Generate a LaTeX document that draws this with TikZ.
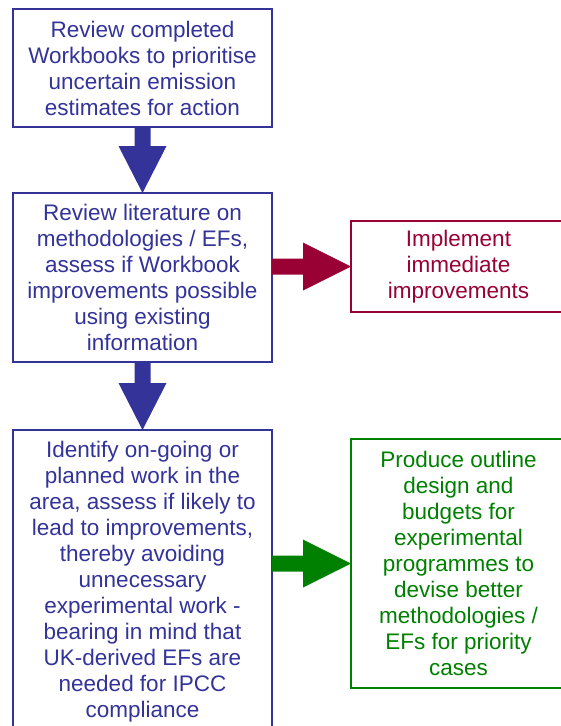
\documentclass[tikz,border=0pt]{standalone}
\usepackage{fontspec}
\setmainfont{Liberation Sans}
\usepackage{xcolor}
\usepackage{tikz}
\usetikzlibrary{positioning, calc}
\definecolor{stepblue}{RGB}{51,51,153}
\definecolor{stepred}{RGB}{153,0,51}
\definecolor{stepgreen}{RGB}{0,128,0}
\tikzset{
  stepbox/.style={
    rectangle, draw=stepblue, line width=2pt,
    fill=white, text=stepblue, outer sep=0pt,
    minimum width=259pt, align=center,
    font=\fontsize{22.5}{26}\selectfont, inner sep=0pt
  },
  stepbox-red/.style={stepbox, draw=stepred, text=stepred, minimum width=215pt},
  stepbox-green/.style={stepbox, draw=stepgreen, text=stepgreen, minimum width=215pt},
  % block arrows, drawn as a filled outline from start to target
  fatdown/.style={to path={
    let \p1=(\tikztostart), \p2=(\tikztotarget) in
    (\x1-8pt,\y1) -- (\x1-8pt,\y2+47pt) -- (\x1-24pt,\y2+47pt) -- (\x2,\y2)
    -- (\x1+24pt,\y2+47pt) -- (\x1+8pt,\y2+47pt) -- (\x1+8pt,\y1) -- cycle}},
  fatright/.style={to path={
    let \p1=(\tikztostart), \p2=(\tikztotarget) in
    (\x1,\y1-8pt) -- (\x2-48pt,\y1-8pt) -- (\x2-48pt,\y1-24pt) -- (\x2,\y2)
    -- (\x2-48pt,\y1+24pt) -- (\x2-48pt,\y1+8pt) -- (\x1,\y1+8pt) -- cycle}}
}

\begin{document}
\begin{tikzpicture}[x=1pt, y=-1pt]
  \useasboundingbox (0,0) rectangle (561,726);
  \clip (0,0) rectangle (561,726);

  \node[stepbox, minimum height=118pt] (review) at (142.5,68)
    {Review completed\\Workbooks to prioritise\\uncertain emission\\estimates for action};
  \node[stepbox, minimum height=169pt, below=66pt of review] (lit)
    {Review literature on\\methodologies / EFs,\\assess if Workbook\\improvements possible\\using existing\\information};
  \node[stepbox, minimum height=304pt, below=68pt of lit] (ident)
    {Identify on-going or\\planned work in the\\area, assess if likely to\\lead to improvements,\\thereby avoiding\\unnecessary\\experimental work -\\bearing in mind that\\UK-derived EFs are\\needed for IPCC\\compliance};
  \node[stepbox-red, minimum height=91pt, right=79pt of lit, yshift=11pt] (impl)
    {Implement\\immediate\\improvements};
  \node[stepbox-green, minimum height=249pt, right=79pt of ident, yshift=18.5pt] (prod)
    {Produce outline\\design and\\budgets for\\experimental\\programmes to\\devise better\\methodologies /\\EFs for priority\\cases};

  \fill[stepblue] (review.south) to[fatdown] (lit.north);
  \fill[stepblue] (lit.south) to[fatdown] (ident.north);
  \fill[stepred] (lit.east |- impl.west) to[fatright] (impl.west);
  \fill[stepgreen] (ident.east |- prod.west) to[fatright] (prod.west);
\end{tikzpicture}
\end{document}
